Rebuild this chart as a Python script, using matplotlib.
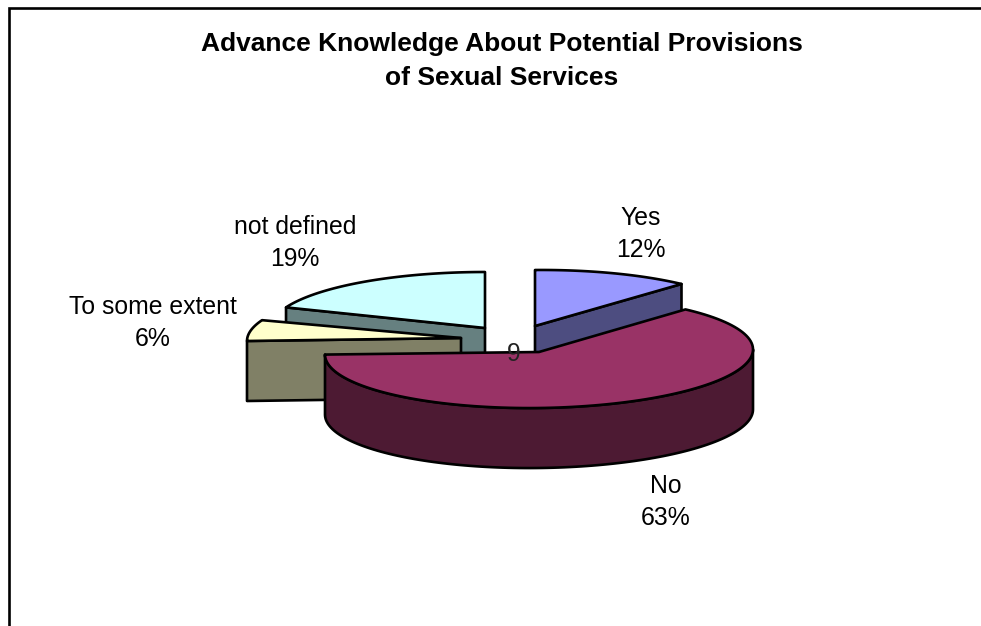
#!/usr/bin/env python3
# -*- coding: utf-8 -*-

import numpy as np
import matplotlib
matplotlib.use('Agg')
import matplotlib.pyplot as plt

plt.rcParams['font.family'] = ['Liberation Sans', 'DejaVu Sans']

# Chart data
categories = ['Yes', 'No', 'To some extent', 'not defined']
values = [12, 63, 6, 19]

TITLE = 'Advance Knowledge About Potential Provisions\nof Sexual Services'

top_colors = ['#9999FF', '#993366', '#FFFFCC', '#CCFFFF']
wall_colors = ['#4D4D80', '#4D1A33', '#808066', '#668080']

# Explode position of each slice apex, in pixels (x, y), and a small tilt
apex = [(535, 326), (539, 352), (461, 338), (485, 328)]
tilt = [-0.008, -0.012, -0.014, 0.0]
label_pos = [(641, 234), (666, 502), (153, 323), (295, 243)]

RX, RY = 214, 56
DEPTH = 60
LW = 1.9


def arc_points(i, a0, a1):
    """Rim points of slice i, angles in degrees clockwise from the top"""
    cx, cy = apex[i]
    t = np.radians(np.linspace(a0, a1, 120))
    x = cx + RX * np.sin(t)
    y = cy - RY * np.cos(t) + tilt[i] * RX * np.sin(t)
    return x, y


def draw_slice(ax, i, a0, a1):
    cx, cy = apex[i]
    x, y = arc_points(i, a0, a1)

    # outer wall, only the part that faces the viewer
    f0, f1 = max(a0, 90), min(a1, 270)
    if f1 > f0:
        wx, wy = arc_points(i, f0, f1)
        ax.fill(np.r_[wx, wx[::-1]], np.r_[wy, wy[::-1] + DEPTH],
                facecolor=wall_colors[i], edgecolor='black', lw=LW, joinstyle='round')

    # flat cut faces
    if i == 0:
        faces = [(x[-1], y[-1])]
    elif i == 2:
        faces = [(x[0], y[0])]
    elif i == 3:
        faces = [(x[0], y[0])]
    else:
        faces = []
    for fx, fy in faces:
        ax.fill([cx, fx, fx, cx], [cy, fy, fy + DEPTH, cy + DEPTH],
                facecolor=wall_colors[i], edgecolor='black', lw=LW, joinstyle='round')

    # top surface
    ax.fill(np.r_[cx, x], np.r_[cy, y], facecolor=top_colors[i],
            edgecolor='black', lw=LW, joinstyle='round')


fig = plt.figure(figsize=(9.81, 6.26), dpi=100)
ax = fig.add_axes([0, 0, 1, 1])
ax.set_xlim(0, 981)
ax.set_ylim(626, 0)
ax.axis('off')

# Chart frame, runs off the right and bottom of the picture
ax.plot([8.5, 8.5, 981], [626, 7.5, 7.5], color='black', lw=1.9, solid_joinstyle='miter')

# Slice angles from the values
shares = np.array(values) / sum(values) * 360
ends = np.cumsum(shares)
starts = ends - shares

# back slices first, the big front one last
for i in [3, 0, 2, 1]:
    draw_slice(ax, i, starts[i], ends[i])

ax.text(502, 61, TITLE, ha='center', va='center', fontsize=19, fontweight='bold',
        linespacing=1.53)

for name, val, (lx, ly) in zip(categories, values, label_pos):
    ax.text(lx, ly, f'{name}\n{val}%', ha='center', va='center', fontsize=17.8,
            linespacing=1.37)

ax.text(514, 354, '9', ha='center', va='center', fontsize=17.8, color='#222222')

fig.savefig('out.png', dpi=100)
plt.close(fig)
